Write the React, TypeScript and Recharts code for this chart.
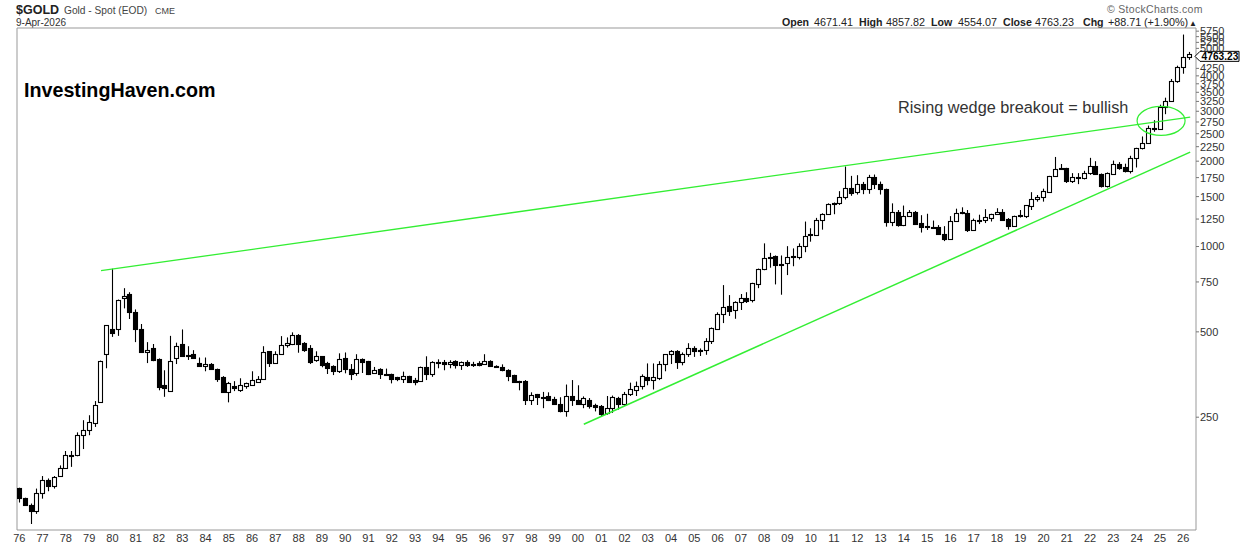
import { Bar, ComposedChart, ReferenceArea, ReferenceDot, ReferenceLine, XAxis, YAxis } from "recharts";

// quarterly candles, 1976 Q1 to 2026 Q2
const opens = [
  141, 130, 123, 117, 135, 150, 143, 155, 166, 184,
  184, 217, 226, 239, 282, 416, 510, 510, 656, 678,
  586, 513, 423, 437, 400, 326, 310, 403, 452, 415,
  416, 389, 380, 386, 371, 346, 307, 321, 313, 323,
  326, 334, 341, 427, 388, 418, 450, 454, 487, 456,
  438, 398, 410, 387, 380, 365, 403, 371, 359, 402,
  394, 359, 371, 354, 354, 346, 342, 348, 338, 336,
  377, 354, 390, 390, 386, 394, 382, 390, 386, 387,
  385, 396, 380, 377, 368, 352, 335, 335, 288, 301,
  295, 296, 289, 279, 262, 298, 288, 278, 288, 275,
  273, 258, 269, 292, 278, 302, 313, 323, 346, 337,
  344, 384, 416, 427, 392, 416, 437, 427, 432, 466,
  513, 578, 615, 595, 637, 660, 649, 738, 830, 908,
  925, 871, 875, 925, 920, 1002, 1103, 1095, 1236, 1300,
  1420, 1420, 1493, 1612, 1555, 1665, 1590, 1755, 1660, 1595,
  1225, 1320, 1195, 1280, 1320, 1210, 1185, 1175, 1172, 1110,
  1060, 1230, 1320, 1312, 1145, 1245, 1238, 1265, 1302, 1325,
  1250, 1180, 1290, 1285, 1390, 1470, 1500, 1560, 1770, 1880,
  1890, 1700, 1755, 1740, 1815, 1920, 1800, 1640, 1805, 1950,
  1900, 1840, 2050, 2225, 2315, 2620, 2590, 3110, 3270, 3840,
  4290, 4671.41,
];
const highs = [
  141, 130, 124, 140, 155, 152, 155, 169, 190, 190,
  221, 244, 254, 285, 396, 527, 835, 650, 713, 690,
  600, 533, 460, 453, 403, 366, 484, 458, 510, 445,
  431, 406, 406, 388, 371, 349, 333, 335, 343, 331,
  363, 349, 445, 427, 427, 483, 478, 498, 491, 460,
  449, 427, 411, 392, 381, 420, 423, 385, 417, 403,
  395, 376, 372, 371, 356, 347, 362, 350, 344, 377,
  410, 394, 400, 398, 397, 397, 393, 397, 392, 394,
  417, 397, 381, 384, 369, 353, 336, 338, 306, 302,
  307, 306, 295, 294, 326, 338, 324, 296, 292, 279,
  276, 297, 298, 295, 307, 331, 334, 354, 387, 387,
  394, 416, 431, 431, 423, 456, 445, 437, 475, 518,
  586, 731, 674, 641, 680, 690, 745, 836, 1026, 950,
  930, 930, 1003, 985, 1026, 1225, 1160, 1262, 1310, 1420,
  1430, 1568, 1915, 1775, 1785, 1690, 1790, 1795, 1695, 1600,
  1420, 1345, 1395, 1345, 1335, 1290, 1305, 1235, 1190, 1180,
  1280, 1360, 1375, 1345, 1255, 1295, 1355, 1305, 1365, 1355,
  1260, 1285, 1345, 1400, 1555, 1520, 1600, 1775, 2070, 1955,
  1895, 1815, 1815, 1850, 2055, 2000, 1810, 1825, 2010, 1985,
  1960, 2090, 2230, 2445, 2670, 2790, 3165, 3350, 3900, 4345,
  5595, 4857.82,
];
const lows = [
  125, 123, 105, 114, 129, 137, 140, 154, 165, 167,
  182, 193, 216, 231, 282, 372, 480, 484, 605, 555,
  460, 425, 388, 394, 311, 295, 308, 385, 408, 398,
  401, 376, 363, 368, 333, 307, 282, 309, 307, 315,
  325, 332, 339, 376, 387, 415, 440, 449, 422, 425,
  385, 392, 375, 355, 352, 358, 357, 338, 350, 358,
  352, 357, 341, 351, 329, 335, 330, 330, 324, 334,
  338, 347, 372, 366, 372, 371, 367, 376, 376, 378,
  384, 378, 375, 363, 335, 333, 311, 276, 276, 276,
  269, 285, 277, 260, 251, 274, 277, 269, 268, 262,
  252, 255, 259, 266, 274, 297, 297, 313, 324, 313,
  338, 363, 385, 370, 381, 408, 408, 411, 415, 453,
  512, 537, 569, 556, 597, 632, 635, 713, 825, 842,
  735, 676, 793, 852, 900, 955, 1040, 1095, 1147, 1295,
  1300, 1402, 1465, 1510, 1525, 1530, 1535, 1595, 1525, 1175,
  1180, 1175, 1180, 1275, 1195, 1120, 1144, 1155, 1098, 1045,
  1060, 1225, 1300, 1125, 1145, 1200, 1210, 1225, 1295, 1240,
  1147, 1175, 1265, 1260, 1345, 1440, 1440, 1555, 1765, 1870,
  1675, 1675, 1660, 1725, 1790, 1790, 1615, 1615, 1790, 1865,
  1825, 1810, 1900, 2200, 2300, 2540, 2590, 2930, 3270, 3780,
  4070, 4554.07,
];
const closes = [
  130, 123, 117, 135, 150, 143, 154, 166, 184, 182,
  217, 226, 241, 277, 396, 527, 494, 650, 667, 586,
  513, 425, 430, 398, 320, 317, 396, 446, 411, 414,
  405, 379, 386, 370, 342, 307, 329, 318, 325, 329,
  337, 342, 423, 388, 416, 448, 458, 486, 454, 431,
  390, 410, 381, 372, 363, 402, 369, 355, 402, 392,
  355, 367, 354, 354, 342, 341, 348, 333, 333, 377,
  355, 390, 391, 386, 393, 382, 390, 382, 384, 382,
  396, 379, 376, 367, 350, 334, 334, 287, 300, 295,
  295, 288, 278, 262, 298, 288, 278, 292, 274, 271,
  257, 270, 294, 278, 303, 315, 322, 349, 337, 346,
  384, 416, 427, 392, 416, 437, 427, 432, 466, 518,
  578, 610, 592, 635, 660, 645, 741, 830, 908, 920,
  862, 862, 915, 915, 1002, 1085, 1095, 1241, 1300, 1410,
  1410, 1493, 1615, 1545, 1660, 1590, 1755, 1660, 1590, 1225,
  1320, 1195, 1280, 1320, 1205, 1170, 1180, 1165, 1110, 1060,
  1230, 1310, 1310, 1148, 1238, 1241, 1267, 1302, 1325, 1245,
  1180, 1280, 1280, 1398, 1470, 1500, 1570, 1770, 1875, 1885,
  1700, 1755, 1745, 1815, 1920, 1800, 1640, 1815, 1950, 1895,
  1840, 2050, 2225, 2315, 2620, 2590, 3110, 3270, 3840, 4300,
  4675, 4763.23,
];

const yearLabels = [
  "76", "77", "78", "79", "80", "81", "82", "83", "84", "85", "86", "87", "88", "89", "90", "91", "92",
  "93", "94", "95", "96", "97", "98", "99", "00", "01", "02", "03", "04", "05", "06", "07", "08", "09",
  "10", "11", "12", "13", "14", "15", "16", "17", "18", "19", "20", "21", "22", "23", "24", "25", "26",
];
const yearTicks = yearLabels.map((_, i) => i * 4);
// 4500 and 4750 sit behind the price tag in the reference
const priceTicks = [
  250, 500, 750, 1000, 1250, 1500, 1750, 2000, 2250, 2500, 2750, 3000, 3250, 3500, 3750, 4000, 4250,
  5000, 5250, 5500, 5750,
];

const lastClose = 4763.23;
const GREEN = "#33ee33";
const X_MIN = -0.4;
const X_MAX = 202.2;
const Y_MIN = 100;
const Y_MAX = 5900;

const data = opens.map((open, i) => ({
  index: i,
  open,
  high: highs[i],
  low: lows[i],
  close: closes[i],
  range: [lows[i], highs[i]],
}));

const Candle = (props: any) => {
  const { x, y, width, height, payload } = props;
  const cx = Math.round(x + width / 2) + 0.5;
  const span = Math.log(payload.high) - Math.log(payload.low);
  const toY = (v: number) => y + (height * (Math.log(payload.high) - Math.log(v))) / span;
  const top = Math.round(toY(Math.max(payload.open, payload.close))) + 0.5;
  const bottom = Math.round(toY(Math.min(payload.open, payload.close))) + 0.5;
  const down = payload.close < payload.open;
  return (
    <g>
      <line x1={cx} x2={cx} y1={y} y2={y + height} stroke="#000" strokeWidth={1.1} />
      <rect
        x={cx - 2}
        y={top}
        width={4}
        height={Math.max(bottom - top, 1)}
        fill={down ? "#000" : "#fff"}
        stroke="#000"
        strokeWidth={1.1}
      />
    </g>
  );
};

const PriceTag = (props: any) => {
  const { cx, cy } = props;
  const left = cx - 1;
  const mid = cy + 2;
  return (
    <g>
      <path
        d={`M${left} ${mid} L${left + 5} ${mid - 5} H${left + 44} V${mid + 5} H${left + 5} Z`}
        fill="#fff"
        stroke="#000"
        strokeWidth={1}
      />
      <text x={left + 25} y={mid + 4} textAnchor="middle" fontSize={10.2} fontWeight="bold" fill="#000">
        {lastClose}
      </text>
    </g>
  );
};

const Oval = (props: any) => (
  <ellipse cx={props.cx} cy={props.cy} rx={24} ry={14.5} fill="none" stroke={GREEN} strokeWidth={1.2} />
);

const App = () => {
  return (
    <div style={{ position: "absolute", left: 0, top: 0, width: 1240, height: 546, background: "#fff" }}>
      <ComposedChart
        width={1240}
        height={546}
        data={data}
        margin={{ top: 28, right: 0, bottom: 0, left: 17 }}
        style={{ fontFamily: "'Liberation Sans', Arial, sans-serif" }}
      >
        <XAxis
          dataKey="index"
          type="number"
          domain={[X_MIN, X_MAX]}
          ticks={yearTicks}
          interval={0}
          height={16}
          tickFormatter={(v: number) => yearLabels[v / 4]}
          tick={{ fontSize: 11, fill: "#333", dy: -3 }}
          axisLine={false}
          tickLine={false}
          tickMargin={1}
          allowDataOverflow
        />
        <YAxis
          orientation="right"
          type="number"
          scale="log"
          domain={[Y_MIN, Y_MAX]}
          ticks={priceTicks}
          interval={0}
          width={44}
          tick={{ fontSize: 11, fill: "#333", textAnchor: "start" }}
          tickLine={{ stroke: "#777" }}
          tickSize={3}
          tickMargin={1}
          axisLine={false}
          allowDataOverflow
        />
        <ReferenceArea
          x1={X_MIN}
          x2={X_MAX}
          y1={Y_MIN}
          y2={Y_MAX}
          fill="none"
          stroke="#999"
          strokeWidth={1}
          ifOverflow="visible"
        />
        <Bar dataKey="range" barSize={5} isAnimationActive={false} shape={Candle} />
        <ReferenceLine
          segment={[
            { x: 14.04, y: 822 },
            { x: 201.2, y: 2862 },
          ]}
          stroke={GREEN}
          strokeWidth={1.3}
          ifOverflow="visible"
        />
        <ReferenceLine
          segment={[
            { x: 97, y: 236 },
            { x: 201.2, y: 2153 },
          ]}
          stroke={GREEN}
          strokeWidth={1.5}
          ifOverflow="visible"
        />
        <ReferenceDot x={196.2} y={2775} shape={Oval} ifOverflow="visible" />
        <ReferenceDot x={X_MAX} y={lastClose} shape={PriceTag} ifOverflow="visible" />

        <text x={16} y={14} fontSize={12.5} fontWeight="bold" fill="#222">$GOLD</text>
        <text x={64} y={14} fontSize={10.2} fill="#444">Gold - Spot (EOD)</text>
        <text x={155} y={14} fontSize={9} fill="#444">CME</text>
        <text x={16} y={26} fontSize={10} fill="#333">9-Apr-2026</text>
        <text x={1107} y={13} fontSize={10.5} fill="#666" letterSpacing={0.3}>© StockCharts.com</text>
        <text y={26} fontSize={10.8} fill="#222">
          <tspan x={782} fontWeight="bold" fontSize={10.6}>Open</tspan>
          <tspan x={814}>4671.41</tspan>
          <tspan x={859} fontWeight="bold" fontSize={10.6}>High</tspan>
          <tspan x={886}>4857.82</tspan>
          <tspan x={931} fontWeight="bold" fontSize={10.6}>Low</tspan>
          <tspan x={958}>4554.07</tspan>
          <tspan x={1003} fontWeight="bold" fontSize={10.6}>Close</tspan>
          <tspan x={1035}>4763.23</tspan>
          <tspan x={1083} fontWeight="bold" fontSize={10.6}>Chg</tspan>
          <tspan x={1108}>+88.71</tspan>
          <tspan x={1144}>(+1.90%)</tspan>
          <tspan x={1189} fontSize={8}>▲</tspan>
        </text>
        <text x={24} y={97} fontSize={19.7} fontWeight="bold" fill="#000">InvestingHaven.com</text>
        <text x={898} y={113} fontSize={16.3} fill="#333">Rising wedge breakout = bullish</text>
      </ComposedChart>
    </div>
  );
};

export default App;
